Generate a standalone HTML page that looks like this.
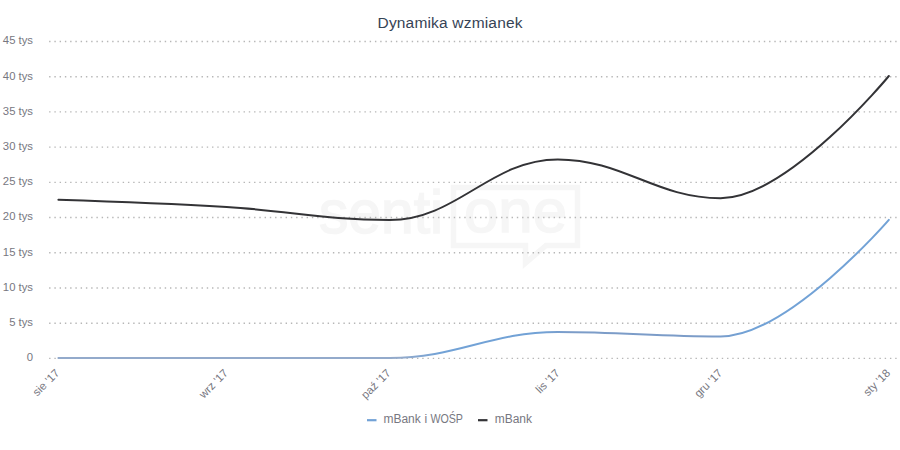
<!DOCTYPE html>
<html><head><meta charset="utf-8"><style>
html,body{margin:0;padding:0;background:#fff;width:900px;height:450px;overflow:hidden}
svg{display:block;font-family:"Liberation Sans",sans-serif}
</style></head><body>
<svg width="900" height="450" viewBox="0 0 900 450">
<rect width="900" height="450" fill="#fff"/>
<g fill="#f6f6f6" stroke="#f6f6f6" stroke-width="1.6">
<text x="319" y="232.5" font-size="62" textLength="124" lengthAdjust="spacingAndGlyphs">senti</text>
<path d="M 453.5 187.5 L 577.5 187.5 L 577.5 245.5 L 546 245.5 L 525.5 263 L 525.5 245.5 L 453.5 245.5 Z" fill="none" stroke="#f6f6f6" stroke-width="5.5"/>
<text x="464" y="231.5" font-size="62" textLength="103" lengthAdjust="spacingAndGlyphs">one</text>
</g>
<g stroke="#b6b6b6" stroke-width="1.4" stroke-dasharray="1.4 3.8552" fill="none">
<path d="M 49.12 358.40 L 896.7 358.40"/>
<path d="M 49.12 323.19 L 896.7 323.19"/>
<path d="M 49.12 287.98 L 896.7 287.98"/>
<path d="M 49.12 252.77 L 896.7 252.77"/>
<path d="M 49.12 217.55 L 896.7 217.55"/>
<path d="M 49.12 182.34 L 896.7 182.34"/>
<path d="M 49.12 147.13 L 896.7 147.13"/>
<path d="M 49.12 111.92 L 896.7 111.92"/>
<path d="M 49.12 76.71 L 896.7 76.71"/>
<path d="M 49.12 41.50 L 896.7 41.50"/>
</g>
<text x="377.5" y="27.9" font-size="15.5" fill="#364355" textLength="145" lengthAdjust="spacing">Dynamika wzmianek</text>
<g font-size="11.3" fill="#777781" text-anchor="end">
<text x="33" y="361.30">0</text>
<text x="33" y="326.09">5 tys</text>
<text x="33" y="290.88">10 tys</text>
<text x="33" y="255.67">15 tys</text>
<text x="33" y="220.45">20 tys</text>
<text x="33" y="185.24">25 tys</text>
<text x="33" y="150.03">30 tys</text>
<text x="33" y="114.82">35 tys</text>
<text x="33" y="79.61">40 tys</text>
<text x="33" y="44.40">45 tys</text>
</g>
<g font-size="11.3" fill="#777781" text-anchor="end">
<text x="60.20" y="373.90" transform="rotate(-45 60.20 373.90)">sie &#39;17</text>
<text x="228.76" y="373.90" transform="rotate(-45 228.76 373.90)">wrz &#39;17</text>
<text x="391.39" y="373.90" transform="rotate(-45 391.39 373.90)">paź &#39;17</text>
<text x="560.46" y="373.90" transform="rotate(-45 560.46 373.90)">lis &#39;17</text>
<text x="723.09" y="373.90" transform="rotate(-45 723.09 373.90)">gru &#39;17</text>
<text x="890.95" y="373.90" transform="rotate(-45 890.95 373.90)">sty &#39;18</text>
</g>
<defs><linearGradient id="bg" gradientUnits="userSpaceOnUse" x1="0" y1="0" x2="900" y2="0">
<stop offset="0.06" stop-color="#93aacb"/><stop offset="0.445" stop-color="#93aacb"/><stop offset="0.49" stop-color="#72a2d6"/>
<stop offset="0.6" stop-color="#72a2d6"/><stop offset="0.635" stop-color="#7c9cc8"/><stop offset="0.79" stop-color="#7c9cc8"/>
<stop offset="0.83" stop-color="#72a2d6"/></linearGradient></defs>
<path d="M 58.40 358.00 C 58.40 358.00 159.36 358.00 226.66 358.00 C 291.79 358.00 324.36 358.00 389.49 358.00 C 456.80 358.00 490.45 332.00 557.76 332.00 C 622.89 332.00 655.46 336.50 720.59 336.50 C 787.89 336.50 888.85 219.90 888.85 219.90" fill="none" stroke="url(#bg)" stroke-width="2" stroke-linecap="round" stroke-linejoin="round"/>
<path d="M 58.40 199.70 C 58.40 199.70 159.36 202.85 226.66 207.00 C 291.79 211.01 324.36 220.10 389.49 220.10 C 456.80 220.10 490.45 159.40 557.76 159.40 C 622.89 159.40 655.46 198.20 720.59 198.20 C 787.89 198.20 888.85 76.00 888.85 76.00" fill="none" stroke="#333336" stroke-width="2" stroke-linecap="round" stroke-linejoin="round"/>
<g font-size="12" fill="#777781">
<path d="M 367 420.2 L 376.5 420.2" stroke="#72a2d6" stroke-width="2.2"/>
<text x="383.4" y="422.8">mBank</text>
<text x="424.6" y="422.8">i</text>
<text x="430.4" y="422.8" textLength="32.6" lengthAdjust="spacingAndGlyphs">WOŚP</text>
<path d="M 478 420.2 L 487.5 420.2" stroke="#333336" stroke-width="2.2"/>
<text x="494.7" y="422.8">mBank</text>
</g>
</svg>
</body></html>
